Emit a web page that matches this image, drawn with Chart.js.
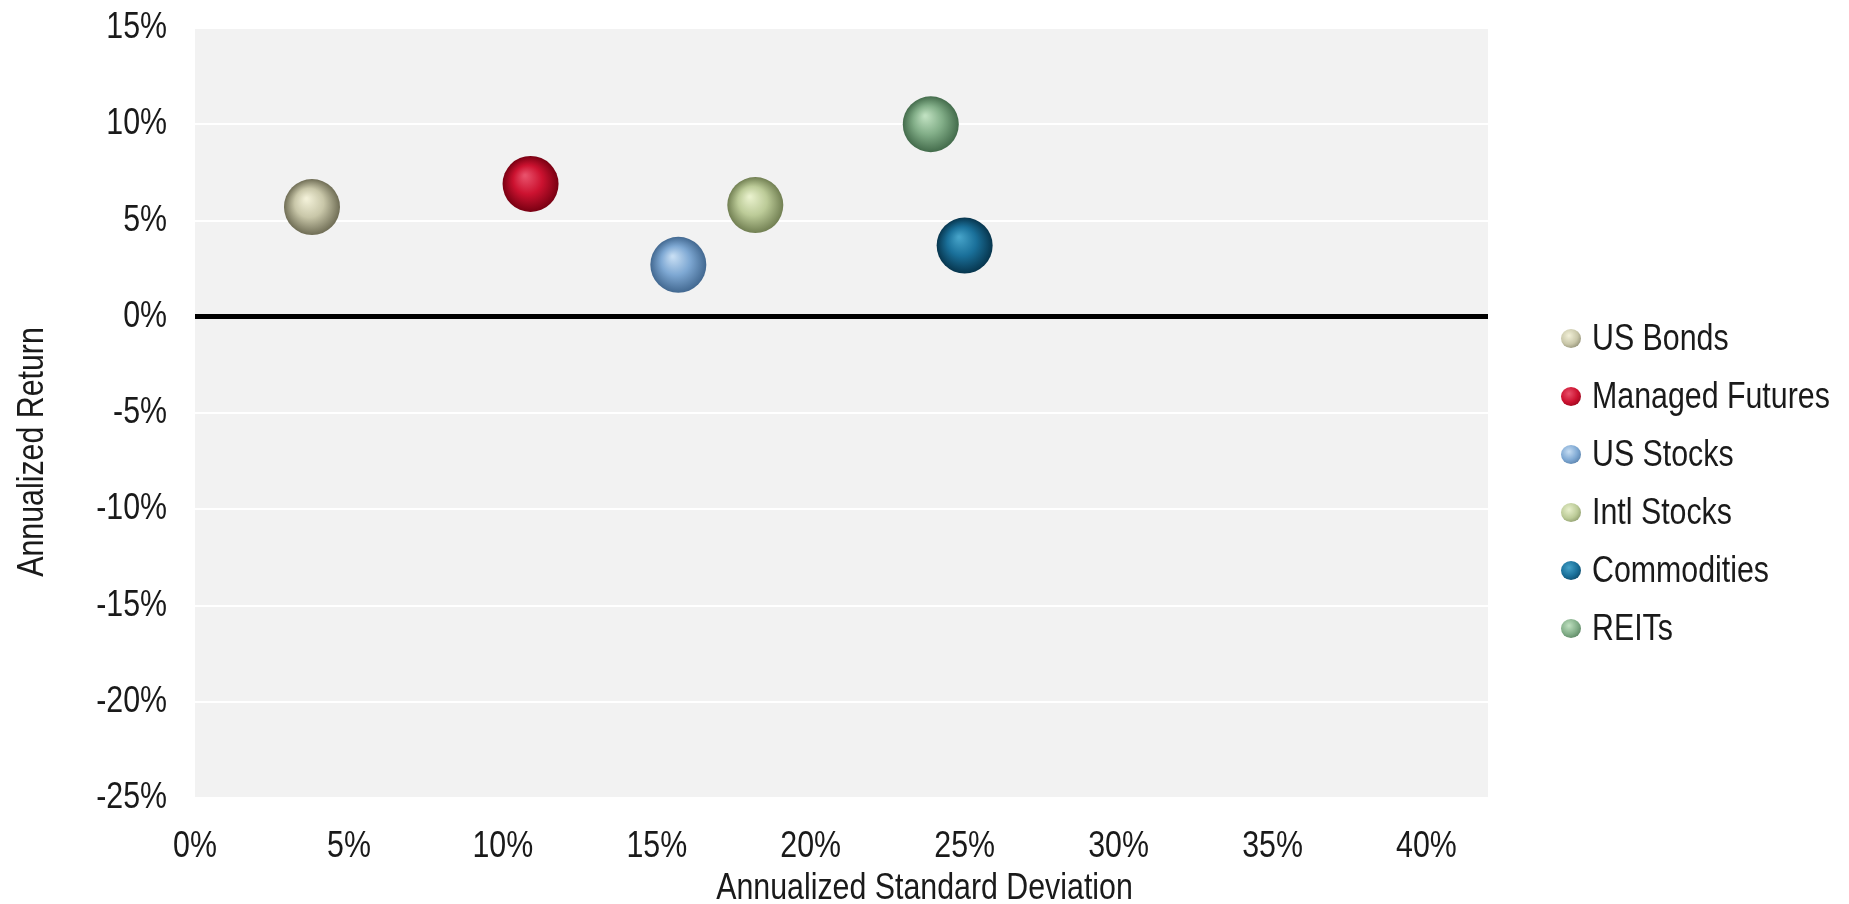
<!DOCTYPE html>
<html lang="en">
<head>
  <meta charset="UTF-8">
  <title>Risk vs Return</title>
  <style>
    body {
      margin: 0;
      padding: 0;
      background-color: #fff;
      font-family: 'Liberation Sans', Arial, sans-serif;
    }

    .chart-wrap {
      position: relative;
      width: 1849px;
      height: 904px;
    }

    #legend {
      position: absolute;
      left: 1561px;
      top: 309px;
      margin: 0;
      padding: 0;
      list-style: none;
    }

    #legend li {
      display: flex;
      align-items: center;
      height: 58px;
      font-size: 37px;
      color: #1a1a1a;
      white-space: nowrap;
    }

    #legend .dot {
      width: 20px;
      height: 19px;
      border-radius: 50%;
      margin-right: 11px;
    }

    /* narrow lettering */
    #legend .name {
      display: inline-block;
      transform: scaleX(0.82);
      transform-origin: left center;
    }
  </style>
</head>
<body>

  <div class="chart-wrap">
    <canvas id="riskChart" width="1849" height="904"></canvas>
    <ul id="legend"></ul>
  </div>

  <script src="https://cdn.jsdelivr.net/npm/chart.js"></script>
  <script>
    // asset classes: annualized standard deviation (x) and annualized return (y), in %
    const assetNames = ['US Bonds', 'Managed Futures', 'US Stocks', 'Intl Stocks', 'Commodities', 'REITs'];
    const stdDev = [3.8, 10.9, 15.7, 18.2, 25.0, 23.9];
    const annReturn = [5.7, 6.9, 2.7, 5.8, 3.7, 10.0];

    // sphere shading: highlight, body, rim
    const lightColors = ['#f2f0d8', '#e8506a', '#c6ddf3', '#e8f0cc', '#45a2c8', '#bfe0c0'];
    const baseColors = ['#c9c7a9', '#cc1230', '#7ea8d3', '#bccb98', '#1a709a', '#82ae88'];
    const darkColors = ['#6f6d55', '#780012', '#426890', '#717f52', '#07354d', '#436b4b'];

    const xTicks = [0, 5, 10, 15, 20, 25, 30, 35, 40];
    const textColor = '#1a1a1a';
    const fontFamily = "'Liberation Sans', Arial, sans-serif";
    const fontSize = 37;
    const narrow = 0.82;
    const ballRadius = 28;

    function sphereFill(i) {
      return function (c) {
        const chart = c.chart;
        if (!chart.scales.x || !c.raw) return baseColors[i];
        const x = chart.scales.x.getPixelForValue(c.raw.x);
        const y = chart.scales.y.getPixelForValue(c.raw.y);
        if (!isFinite(x) || !isFinite(y)) return baseColors[i];
        const g = chart.ctx.createRadialGradient(x - ballRadius * 0.2, y - ballRadius * 0.3, 1, x, y, ballRadius);
        g.addColorStop(0, lightColors[i]);
        g.addColorStop(0.5, baseColors[i]);
        g.addColorStop(1, darkColors[i]);
        return g;
      };
    }

    const datasets = assetNames.map((name, i) => ({
      label: name,
      data: [{ x: stdDev[i], y: annReturn[i] }],
      backgroundColor: sphereFill(i),
      borderWidth: 0,
      pointRadius: ballRadius,
      pointHoverRadius: ballRadius
    }));

    // grey plot background
    const plotBackground = {
      id: 'plotBackground',
      beforeDraw(chart) {
        const { ctx, chartArea: a } = chart;
        ctx.save();
        ctx.fillStyle = '#f2f2f2';
        ctx.fillRect(a.left, a.top, a.right - a.left, a.bottom - a.top);
        ctx.restore();
      }
    };

    function narrowText(ctx, text, x, y, align, baseline) {
      ctx.save();
      ctx.translate(x, y);
      ctx.scale(narrow, 1);
      ctx.textAlign = align;
      ctx.textBaseline = baseline;
      ctx.fillText(text, 0, 0);
      ctx.restore();
    }

    // tick labels and axis titles in a condensed face
    const axisText = {
      id: 'axisText',
      afterDraw(chart) {
        const { ctx, width, height, chartArea: a } = chart;
        const xs = chart.scales.x, ys = chart.scales.y;
        ctx.save();
        ctx.fillStyle = textColor;
        ctx.font = fontSize + 'px ' + fontFamily;

        xs.ticks.forEach((t, i) => {
          narrowText(ctx, t.value + '%', xs.getPixelForTick(i), a.bottom + 49, 'center', 'middle');
        });
        ys.ticks.forEach((t, i) => {
          narrowText(ctx, t.value + '%', a.left - 28, ys.getPixelForTick(i), 'right', 'middle');
        });

        // axis titles are centred on the whole canvas
        narrowText(ctx, 'Annualized Standard Deviation', width / 2, 899, 'center', 'alphabetic');
        ctx.translate(43, height / 2);
        ctx.rotate(-Math.PI / 2);
        narrowText(ctx, 'Annualized Return', 0, 0, 'center', 'alphabetic');
        ctx.restore();
      }
    };

    new Chart(document.getElementById('riskChart'), {
      type: 'scatter',
      data: { datasets: datasets },
      options: {
        responsive: false,
        animation: false,
        layout: { padding: { top: 26, right: 361, left: 0, bottom: 0 } },
        plugins: {
          legend: { display: false },
          tooltip: { enabled: false }
        },
        scales: {
          x: {
            min: 0,
            max: 42,
            afterBuildTicks(scale) {
              scale.ticks = xTicks.map(v => ({ value: v }));
            },
            afterFit(scale) { scale.height = 106; },
            grid: { display: false, drawTicks: false },
            border: { display: false },
            ticks: { display: false }
          },
          y: {
            min: -25,
            max: 15,
            afterFit(scale) { scale.width = 195; },
            grid: {
              drawTicks: false,
              color: c => c.tick && c.tick.value === 0 ? '#000' : '#ffffff',
              lineWidth: c => c.tick && c.tick.value === 0 ? 5 : 2
            },
            border: { display: false },
            ticks: { display: false, stepSize: 5 }
          }
        }
      },
      plugins: [plotBackground, axisText]
    });

    // legend list
    const legendEl = document.getElementById('legend');
    assetNames.forEach((name, i) => {
      const li = document.createElement('li');
      li.innerHTML = `<span class="dot" style="background: radial-gradient(circle at 40% 35%, ${lightColors[i]} 0%, ${baseColors[i]} 50%, ${darkColors[i]} 100%);"></span><span class="name">${name}</span>`;
      legendEl.appendChild(li);
    });
  </script>

</body>
</html>
